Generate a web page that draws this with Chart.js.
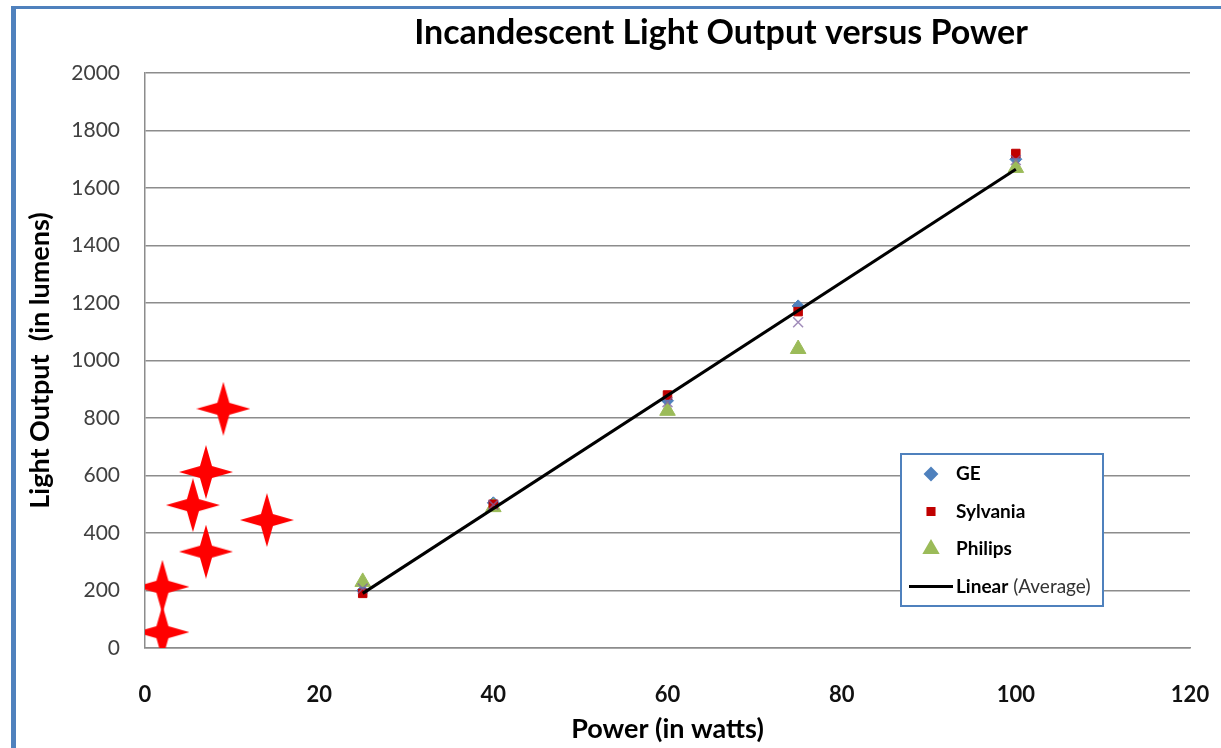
<!DOCTYPE html>
<html>
<head>
<meta charset="utf-8">
<script src="https://cdn.jsdelivr.net/npm/chart.js@4.4.1/dist/chart.umd.min.js"></script>
<style>
  html, body { margin: 0; padding: 0; background: #fff; overflow: hidden; }
  #frame {
    position: absolute; left: 11px; top: 6px; width: 1230px; height: 760px;
    border-top: 3px solid #4f81bd; border-left: 5px solid #4f81bd; box-sizing: border-box;
  }
  #wrap { position: absolute; left: 0; top: 0; width: 1221px; height: 748px; }
</style>
</head>
<body>
<div id="frame"></div>
<div id="wrap"><canvas id="lightChart" width="1221" height="748"></canvas></div>
<script>
// data
const power = [25, 40, 60, 75, 100];
const geLumens = [200, 505, 860, 1190, 1700];
const sylvaniaLumens = [190, 500, 880, 1170, 1720];
const philipsLumens = [230, 490, 825, 1040, 1670];
const averageLumens = [207, 498, 855, 1133, 1697];

// trend line ends (Linear (Average))
const trendPower = [25, 100];
const trendLumens = [190, 1665];

// red star marks
const starPower = [2, 2, 7, 14, 5.5, 7, 9];
const starLumens = [55, 213, 335, 445, 497, 612, 832];

const xTicks = [0, 20, 40, 60, 80, 100, 120];
const yTicks = [0, 200, 400, 600, 800, 1000, 1200, 1400, 1600, 1800, 2000];

const FONT = 'Lato, "Open Sans", sans-serif';

function toPoints(xs, ys) {
    return xs.map((x, i) => ({ x: x, y: ys[i] }));
}

// 4-pointed red star as a point image
function makeStar(size, inner) {
    const c = document.createElement('canvas');
    c.width = c.height = size;
    const g = c.getContext('2d');
    const r = size / 2;
    g.translate(r, r);
    g.beginPath();
    for (let i = 0; i < 8; i++) {
        const a = i * Math.PI / 4 - Math.PI / 2;
        const rad = i % 2 === 0 ? r : inner;
        g.lineTo(Math.cos(a) * rad, Math.sin(a) * rad);
    }
    g.closePath();
    g.fillStyle = '#ff0000';
    g.fill();
    return c;
}

const starImg = makeStar(54, 8.5);

// title drawn over the page, offset like the original
const titlePlugin = {
    id: 'pageTitle',
    afterDraw(chart) {
        const ctx = chart.ctx;
        ctx.save();
        ctx.font = 'bold 34px ' + FONT;
        ctx.fillStyle = '#000';
        ctx.textAlign = 'center';
        ctx.textBaseline = 'middle';
        ctx.fillText('Incandescent Light Output versus Power', 721, 33);
        ctx.restore();
    }
};

// boxed legend inside the plot
const legendPlugin = {
    id: 'boxLegend',
    afterDraw(chart) {
        const ctx = chart.ctx;
        const box = { left: 901, top: 454, width: 202, height: 152 };
        ctx.save();
        ctx.fillStyle = '#fff';
        ctx.fillRect(box.left, box.top, box.width, box.height);
        ctx.strokeStyle = '#4f81bd';
        ctx.lineWidth = 2;
        ctx.strokeRect(box.left, box.top, box.width, box.height);

        const items = [
            { text: 'GE', color: '#4f81bd', style: 'rectRot', radius: 6 },
            { text: 'Sylvania', color: '#c00000', style: 'rect', radius: 5 },
            { text: 'Philips', color: '#9bbb59', style: 'triangle', radius: 8 },
            { text: 'Linear', extra: ' (Average)', color: '#000', style: 'line' }
        ];
        ctx.textBaseline = 'middle';
        ctx.textAlign = 'left';
        items.forEach((item, i) => {
            const y = box.top + 20 + i * 37.5;
            if (item.style === 'line') {
                ctx.strokeStyle = item.color;
                ctx.lineWidth = 3;
                ctx.beginPath();
                ctx.moveTo(909, y);
                ctx.lineTo(953, y);
                ctx.stroke();
            } else {
                ctx.fillStyle = item.color;
                ctx.strokeStyle = item.color;
                Chart.helpers.drawPoint(ctx, { pointStyle: item.style, radius: item.radius, rotation: 0, borderWidth: 1 }, 931, y);
            }
            ctx.fillStyle = '#000';
            ctx.font = 'bold 19px ' + FONT;
            ctx.fillText(item.text, 956, y);
            if (item.extra) {
                const w = ctx.measureText(item.text).width;
                ctx.font = '19px ' + FONT;
                ctx.fillStyle = '#333';
                ctx.fillText(item.extra, 956 + w, y);
            }
        });
        ctx.restore();
    }
};

const ctx = document.getElementById('lightChart').getContext('2d');
const myChart = new Chart(ctx, {
    type: 'scatter',
    data: {
        datasets: [
            {
                label: 'Stars',
                data: toPoints(starPower, starLumens),
                pointStyle: starImg,
                order: 0
            },
            {
                label: 'Linear (Average)',
                data: toPoints(trendPower, trendLumens),
                showLine: true,
                borderColor: '#000',
                borderWidth: 3,
                pointRadius: 0,
                order: 1
            },
            {
                label: 'Average',
                data: toPoints(power, averageLumens),
                pointStyle: 'crossRot',
                pointRadius: 7,
                borderColor: 'rgba(128, 100, 162, 0.75)',
                borderWidth: 1.5,
                order: 2
            },
            {
                label: 'Philips',
                data: toPoints(power, philipsLumens),
                pointStyle: 'triangle',
                pointRadius: 9,
                backgroundColor: '#9bbb59',
                borderColor: '#9bbb59',
                borderWidth: 1,
                order: 4
            },
            {
                label: 'Sylvania',
                data: toPoints(power, sylvaniaLumens),
                pointStyle: 'rect',
                pointRadius: 6,
                backgroundColor: '#c00000',
                borderColor: '#c00000',
                borderWidth: 1,
                order: 3
            },
            {
                label: 'GE',
                data: toPoints(power, geLumens),
                pointStyle: 'rectRot',
                pointRadius: 6,
                backgroundColor: '#4f81bd',
                borderColor: '#4f81bd',
                borderWidth: 1,
                order: 5
            }
        ]
    },
    options: {
        responsive: false,
        animation: false,
        layout: { padding: { top: 73, right: 31, left: 0, bottom: 0 } },
        plugins: {
            legend: { display: false },
            tooltip: { enabled: false }
        },
        scales: {
            x: {
                type: 'linear',
                min: xTicks[0],
                max: xTicks[xTicks.length - 1],
                afterBuildTicks: s => { s.ticks = xTicks.map(v => ({ value: v })); },
                ticks: {
                    padding: 26,
                    color: '#111',
                    font: { family: FONT, size: 22, weight: 'bold' },
                    callback: v => String(v)
                },
                grid: { display: false },
                border: { color: '#8c8c8c', width: 1.5 },
                title: {
                    display: true,
                    text: 'Power (in watts)',
                    color: '#000',
                    font: { family: FONT, size: 27, weight: 'bold' },
                    padding: { top: 0, bottom: 3 }
                },
                afterFit: s => { s.height = 100; s.paddingLeft = 0; s.paddingRight = 0; }
            },
            y: {
                min: yTicks[0],
                max: yTicks[yTicks.length - 1],
                afterBuildTicks: s => { s.ticks = yTicks.map(v => ({ value: v })); },
                ticks: {
                    padding: 25,
                    color: '#404040',
                    font: { family: FONT, size: 21 },
                    callback: v => String(v)
                },
                grid: { color: '#8c8c8c', lineWidth: 1.5, drawTicks: false },
                border: { color: '#8c8c8c', width: 1.5 },
                title: {
                    display: true,
                    text: 'Light Output  (in lumens)',
                    color: '#000',
                    font: { family: FONT, size: 27, weight: 'bold' },
                    padding: { top: 24, bottom: 0 }
                },
                afterFit: s => { s.width = 145; }
            }
        }
    },
    plugins: [titlePlugin, legendPlugin]
});
</script>
</body>
</html>
